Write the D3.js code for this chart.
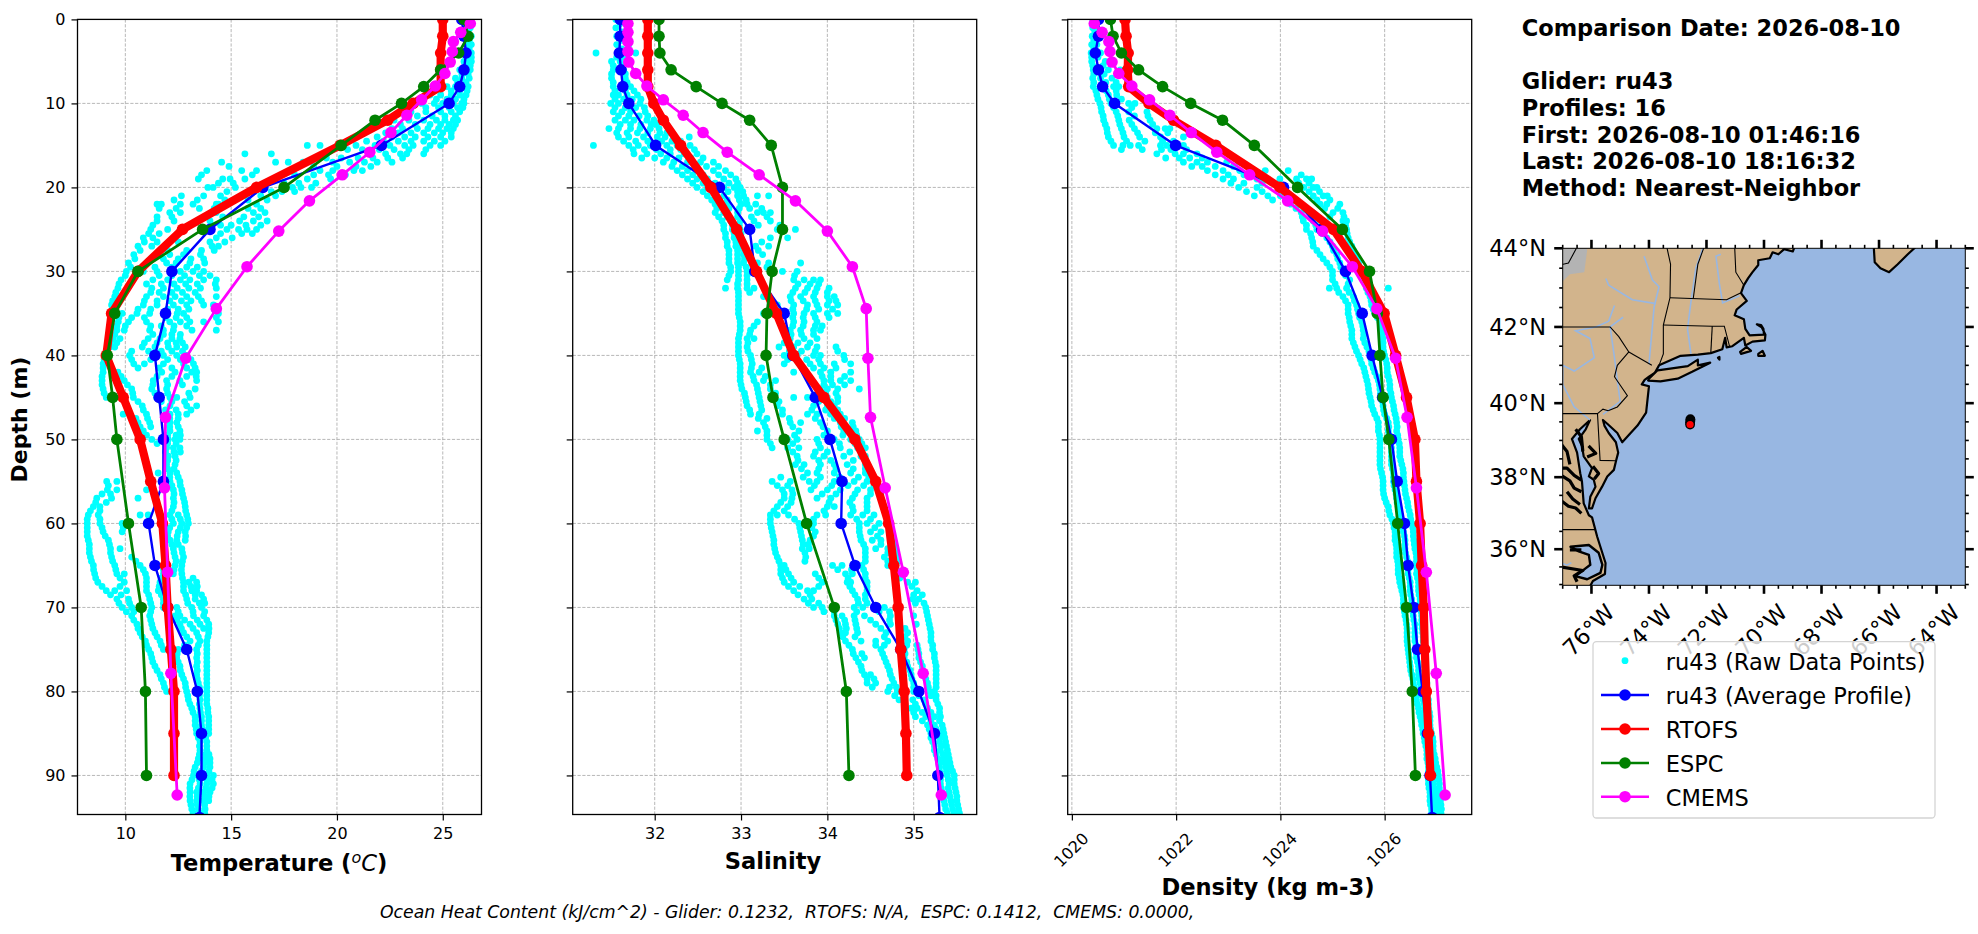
<!DOCTYPE html>
<html>
<head>
<meta charset="utf-8">
<script src="https://cdn.jsdelivr.net/npm/d3@7"></script>
<style>
  html, body { margin: 0; padding: 0; background: #fff; }
  svg { display: block; }
  text { font-family: "DejaVu Sans", sans-serif; fill: #000; }
</style>
</head>
<body>
<div id="chart"></div>
<script>
// profile depths (m)
const gliderDepth = [0, 2, 4, 6, 8, 10, 15, 20, 25, 30, 35, 40, 45, 50, 55, 60, 65, 70, 75, 80, 85, 90, 95];
const rtofsDepth = [0, 2, 4, 6, 8, 10, 12, 15, 20, 25, 30, 35, 40, 45, 50, 55, 60, 65, 70, 75, 80, 85, 90];
const espcDepth = [0, 2, 4, 6, 8, 10, 12, 15, 20, 25, 30, 35, 40, 45, 50, 60, 70, 80, 90];
const cmemsDepth = [0.49, 1.54, 2.65, 3.82, 5.08, 6.44, 7.93, 9.57, 11.41, 13.47, 15.81, 18.5, 21.6, 25.2, 29.44, 34.43, 40.34, 47.37, 55.76, 65.81, 77.85, 92.33];

// temperature
const gliderTemp = [25.9, 26.0, 26.1, 26.0, 25.8, 25.3, 22.1, 16.5, 14.0, 12.2, 11.9, 11.4, 11.6, 11.8, 11.8, 11.1, 11.4, 12.0, 12.9, 13.4, 13.6, 13.6, 13.5];
const rtofsTemp = [25.0, 25.0, 24.9, 24.9, 24.9, 23.6, 22.4, 20.15, 16.2, 12.7, 10.6, 9.35, 9.1, 9.9, 10.7, 11.2, 11.75, 11.9, 12.0, 12.15, 12.3, 12.3, 12.3];
const espcTemp = [26.0, 26.2, 25.75, 24.9, 24.1, 23.05, 21.8, 20.2, 17.5, 13.65, 10.6, 9.5, 9.15, 9.4, 9.6, 10.15, 10.75, 10.95, 11.0];
const cmemsTemp = [26.3, 25.85, 25.5, 25.45, 25.35, 25.1, 24.65, 24.0, 23.3, 22.55, 21.55, 20.25, 18.7, 17.25, 15.75, 14.3, 12.85, 11.9, 11.85, 12.0, 12.15, 12.45];

// salinity
const gliderSal = [31.6, 31.6, 31.59, 31.61, 31.63, 31.7, 32.01, 32.75, 33.1, 33.16, 33.5, 33.6, 33.86, 34.03, 34.17, 34.16, 34.32, 34.56, 34.85, 35.06, 35.24, 35.28, 35.3];
const rtofsSal = [31.92, 31.92, 31.92, 31.92, 31.92, 31.99, 32.1, 32.3, 32.65, 32.95, 33.18, 33.41, 33.61, 33.96, 34.32, 34.56, 34.71, 34.77, 34.82, 34.85, 34.89, 34.91, 34.92];
const espcSal = [32.05, 32.05, 32.06, 32.19, 32.48, 32.78, 33.1, 33.35, 33.48, 33.48, 33.36, 33.3, 33.29, 33.37, 33.5, 33.76, 34.08, 34.22, 34.25];
const cmemsSal = [31.69, 31.69, 31.69, 31.69, 31.7, 31.78, 31.91, 32.1, 32.33, 32.56, 32.84, 33.21, 33.63, 34.0, 34.29, 34.45, 34.47, 34.5, 34.67, 34.88, 35.11, 35.32];

// density
const gliderDens = [1020.51, 1020.51, 1020.45, 1020.51, 1020.59, 1020.82, 1021.99, 1024.06, 1024.79, 1025.25, 1025.57, 1025.76, 1025.96, 1026.13, 1026.24, 1026.38, 1026.45, 1026.56, 1026.63, 1026.73, 1026.82, 1026.87, 1026.91];
const rtofsDens = [1021.02, 1021.04, 1021.08, 1021.07, 1021.09, 1021.48, 1021.95, 1022.76, 1023.99, 1025.02, 1025.56, 1025.99, 1026.21, 1026.42, 1026.58, 1026.61, 1026.68, 1026.71, 1026.75, 1026.77, 1026.8, 1026.84, 1026.88];
const espcDens = [1020.74, 1020.79, 1020.95, 1021.28, 1021.74, 1022.28, 1022.89, 1023.5, 1024.33, 1025.19, 1025.71, 1025.86, 1025.91, 1025.97, 1026.08, 1026.25, 1026.42, 1026.53, 1026.59];
const cmemsDens = [1020.43, 1020.58, 1020.71, 1020.73, 1020.77, 1020.9, 1021.15, 1021.49, 1021.88, 1022.29, 1022.78, 1023.41, 1024.14, 1024.81, 1025.38, 1025.85, 1026.21, 1026.43, 1026.61, 1026.8, 1026.99, 1027.16];

// raw glider samples, one row per metre of depth (row index = depth)
const rawTemp = [
  [26.1,26.3],[26.1,26.3],[26.15,26.35],[26.2,26.35],[26.1,26.35],[26.0,26.2,26.35],[25.8,26.05,26.3],[25.6,25.9,26.25],
  [25.2,25.6,26.0,26.2],[24.4,24.9,25.4,25.8,26.1],[24.0,24.6,25.0,25.5,25.9,26.0],[23.5,24.2,24.9,25.4,25.8],
  [22.7,23.4,24.1,24.7,25.1,25.5,25.7],[22.6,23.1,23.8,24.3,24.8,25.2,25.5],[21.9,22.6,23.2,23.7,24.3,24.9,25.4],
  [18.6,19.2,20.9,21.8,22.5,23.2,23.6,24.4,24.9],[15.65,16.9,21.5,22.3,23.0,23.3,24.1],[14.55,17.1,17.7,18.4,19.8,20.6,21.3,21.9,22.6],
  [13.85,15.5,16.2,19.2,19.8,20.8,21.2],[13.45,14.6,14.95,15.65,18.6,19.7],[13.9,14.15,15.2,16.4,17.9,18.3,18.8],
  [12.65,13.7,14.5,16.4,17.1],[11.7,11.5,12.6,13.2,14.4,14.3,16.2],[12.1,12.6,14.3,16.05,16.6],[11.5,12.3,14.0,15.4,16.05,16.7],
  [11.2,12.0,14.8,15.35,15.75,16.2],[10.85,11.3,14.3,15.05],[10.6,11.25,14.1,14.4],[10.4,12.1,12.75,13.55],[10.15,11.95,12.4,13.05,13.75],
  [10.05,10.85,11.5,12.6,13.2,13.7],[9.8,11.3,12.0,12.6,13.05,13.7,14.3],[9.65,11.25,11.8,12.45,13.0,13.55,14.3],[9.5,11.0,11.8,12.35,12.9,13.45,14.3],
  [9.35,10.85,11.5,12.27,12.9,13.7,14.16],[9.43,9.85,10.55,11.15,12.45,12.75,14.4],[9.67,10.15,11.0,12.1,12.6,13.05,13.7,14.4],[9.6,9.95,11.15,11.8,12.27,13.15,14.3],
  [9.43,9.75,11.08,11.64,12.2,12.58],[9.27,9.5,10.8,11.4,12.03,12.43,12.83],[9.05,10.2,11.32,11.8,12.43,12.9],[8.95,10.4,10.9,11.8,12.75,13.22],
  [8.95,9.65,11.72,12.35,13.14,13.37],[8.9,9.95,11.32,11.95,12.58,13.37],[8.95,10.3,11.25,11.95,13.3],[9.1,10.38,11.48,12.11,12.43,13.06],
  [10.8,12.11,12.9,13.37],[9.9,11.0,12.11,12.5,12.9],[10.6,11.15,12.11,12.43],[10.85,12.11,12.58],[11.25,12.03,12.35,12.58],
  [11.95,12.27,12.58],[12.03,12.35],[11.95,12.35],[11.55,12.11,12.43],[9.6,9.12,11.8,12.11,12.58],[9.15,9.6,11.0,12.27,12.67],
  [8.65,9.35,10.6,12.27,12.75],[8.49,8.8,12.27,12.83],[8.25,8.72,10.7,11.08,12.11,12.5,12.9],[8.2,8.8,9.85,10.06,12.27,12.67,12.98],
  [8.2,8.95,9.85,12.03,12.5,12.83],[8.25,9.2,12.11,12.43,12.83],[8.3,9.3,9.75,12.27,12.67],[8.35,9.35,10.3,12.35,12.75],
  [8.49,9.5,10.7,11.8,12.35,12.67],[8.55,9.6,9.95,10.95,11.8,12.27,12.67],[8.7,9.95,11.0,11.64,12.75,13.0,13.37],[9.1,9.5,10.06,11.0,11.56,12.75,13.14,13.37],
  [9.6,10.15,11.15,11.8,12.9,13.3,13.7],[9.85,10.3,11.25,11.8,12.43,13.14,13.6],[10.3,11.15,12.35,12.58,13.22,13.7],[10.55,11.25,12.58,13.06,13.53,13.94],
  [10.7,11.4,12.75,13.37,13.94],[10.95,11.64,13.06,13.53,13.85],[11.1,11.8,12.5,13.37,13.85],[11.25,12.43,13.37,13.85],[11.4,12.58,13.37,13.85],
  [11.64,12.67,13.37,13.85],[11.8,12.83,13.45,13.85],[11.95,12.9,13.53,13.85],[12.98,13.53,13.85],[13.14,13.53,13.9],[13.3,13.6,13.94],
  [13.3,13.6,13.94],[13.37,13.7,13.94],[13.53,13.85],[13.53,13.85],[13.45,13.77,14.0],[13.3,13.7,14.0],[13.22,13.53,13.85,14.16],
  [13.06,13.53,13.85,14.16],[13.06,13.37,13.7,14.0],[13.06,13.37,13.7,13.94],[13.14,13.45,13.77],[13.3,13.7]
];
// samples between those rows (row index + 0.5 m)
const rawTempMid = [
  [26.2],[26.2],[26.25],[26.25],[26.2,26.35],[26.1,26.3],[25.9,26.2],[25.7,26.1],[25.4,25.8,26.15],
  [24.7,25.2,25.6,26.0],[24.2,24.8,25.3,25.7,25.95],[23.8,24.5,25.1,25.6],[23.0,23.7,24.4,24.9,25.3,25.6],[22.3,22.9,23.5,24.1,24.6,25.0,25.4],[21.4,22.2,22.9,23.5,24.1,24.6,25.1],
  [20.5,21.2,22.0,22.7,23.4,24.2],[19.5,20.2,21.0,21.7,22.4,23.1],[14.9,18.9,20.0,20.9,21.6],[13.6,16.0,18.0,18.9,19.6,20.4],[14.4,15.1,17.5,18.2,19.0],[14.8,16.1,16.9,17.4,18.0],
  [12.3,13.4,14.7,15.8,16.7],[11.6,12.4,13.5,14.2,15.8,16.4],[11.5,12.2,14.6,15.6,16.3],[11.3,14.5,15.0,15.7,16.4],[11.1,11.6,14.5,15.5,16.0],[10.9,11.5,12.5,14.0,14.7],
  [10.7,12.0,12.9,13.6,14.2],[10.45,11.8,12.5,13.1,13.7],[10.25,11.4,12.2,12.9,13.4],[10.0,11.6,12.2,12.8,13.5,14.0],[9.7,11.0,11.7,12.3,12.85,13.4,14.25],[9.55,11.2,11.6,12.2,12.7,13.3],
  [9.4,10.9,11.5,12.1,12.65,13.1,13.6],[9.4,10.6,11.2,12.0,12.5,13.0,14.2],[9.7,10.3,10.9,11.9,12.4,12.9,14.3],[9.6,10.0,11.2,11.7,12.3,12.9],[9.5,11.3,11.8,12.2,12.6],[9.3,9.6,10.9,11.5,12.0,12.4,12.7],
  [9.1,10.3,11.1,11.7,12.2,12.7],[9.0,10.3,11.2,12.0,12.6,13.1],[8.95,10.6,11.6,12.2,12.9,13.3],[8.9,9.8,11.5,12.2,12.9,13.35],[8.9,10.1,11.3,12.0,12.7],[9.0,10.35,11.4,12.0,13.0],
  [10.6,11.7,12.2,12.8],[10.85,11.9,12.4,13.1],[10.5,11.05,12.1,12.5],[10.7,11.2,12.1,12.5],[11.0,12.0,12.4,12.6],[11.5,12.0,12.4],[11.9,12.3,12.6],[12.0,12.4],[12.0,12.3],[12.1,12.5],
  [9.2,12.2,12.6],[8.9,9.3,12.3,12.7],[8.6,9.1,12.3,12.8],[8.35,8.8,12.2,12.85],[8.2,8.8,12.2,12.6,12.95],[8.2,8.9,9.9,12.1,12.6,12.9],[8.2,9.05,12.0,12.45,12.85],[8.3,9.25,12.2,12.5],[8.3,9.3,12.3,12.7],
  [8.4,9.4,10.5,12.4,12.7],[8.5,9.55,10.85,11.8,12.3,12.65],[8.6,9.75,11.0,11.7,12.7,13.2],[8.9,9.75,11.0,11.6,12.75,13.1,13.4],[9.3,9.8,11.1,11.7,12.85,13.3,13.6],[9.7,10.2,11.2,11.8,12.95,13.5,13.75],
  [10.05,10.4,11.2,12.0,12.5,13.2,13.75],[10.4,11.2,12.45,12.8,13.4,13.85],[10.6,11.3,12.65,13.2,13.7,13.95],[10.8,11.5,12.9,13.45,13.9],[11.0,11.7,12.8,13.45,13.85],[11.2,12.45,13.4,13.85],[11.3,12.5,13.4,13.85],
  [11.5,12.6,13.4,13.85],[11.7,12.75,13.4,13.85],[11.85,12.85,13.5,13.85],[12.95,13.5,13.85],[13.05,13.5,13.85],[13.2,13.55,13.9],[13.3,13.6,13.94],[13.35,13.65,13.94],[13.45,13.8],[13.5,13.85],
  [13.5,13.8,13.95],[13.4,13.75,14.0],[13.25,13.6,13.95],[13.15,13.5,13.85,14.1],[13.05,13.45,13.8,14.1],[13.05,13.4,13.75,13.95],[13.1,13.4,13.75],[13.2,13.55,13.75]
];
const rawSal = [
  [31.55,31.68],[31.55,31.68],[31.56,31.68],[31.56,31.7],[31.32,31.6,31.78],[31.5,31.6],[31.52,31.64],[31.5,31.66],[31.52,31.62,31.72],
  [31.52,31.58,31.68,31.8],[31.49,31.58,31.72,31.83],[31.52,31.62,31.72,31.89],[31.54,31.66,31.76,31.91,31.99],[31.47,31.58,31.72,31.83,31.95,32.05],
  [31.58,31.7,31.87,32.03,32.12,32.22,32.4],[31.29,31.7,31.81,31.95,32.14,32.26,32.41],[31.76,31.91,32.07,32.18,32.34,32.49],[32.1,32.22,32.38,32.53,32.68],
  [32.26,32.38,32.49,32.68,32.82],[32.38,32.49,32.61,32.8,32.94],[32.49,32.61,32.8,32.92,32.99],[32.61,32.8,32.96,33.03,33.19,33.32],[32.7,32.84,33.0,33.07,33.17],
  [32.7,32.8,32.96,33.19,33.26,33.34],[32.78,32.88,32.99,33.15,33.34],[32.8,32.9,32.99,33.42,33.63],[32.82,32.92,32.99,33.34,33.54],[32.84,32.94,33.01,33.17,33.32],
  [32.86,32.96,33.03,33.25],[32.86,32.96,33.03,33.19,33.32,33.69],[32.88,32.97,33.07,33.48,33.65],[32.84,32.97,33.07,33.61,33.73,33.84,33.92],
  [32.82,32.96,33.07,33.15,33.63,33.77,33.88,34.02],[32.97,33.26,33.57,33.69,33.84,34.0,34.08],[32.97,33.42,33.61,33.77,33.88,34.0,34.12],[32.97,33.26,33.61,33.73,33.84,34.0,34.12],
  [32.99,33.19,33.61,33.73,33.88],[32.99,33.11,33.57,33.69,33.84,33.92],[32.97,33.07,33.15,33.57,33.73,33.88],[32.97,33.07,33.44,33.61,33.77,33.88,34.1],
  [32.97,33.11,33.5,33.65,33.84,33.92,34.19],[32.99,33.13,33.5,33.8,33.92,34.08,34.27],[32.99,33.11,33.21,33.61,33.92,34.04,34.27],[32.99,33.15,33.26,33.4,33.96,34.04,34.15,34.27],
  [33.01,33.19,33.34,33.92,34.0,34.12,34.37],[33.05,33.21,33.36,33.61,33.77,34.0,34.12],[33.07,33.23,33.42,33.84,34.0,34.08],[33.11,33.21,33.48,33.77,33.88,34.04,34.15],
  [33.26,33.57,33.69,33.92,34.15,34.29],[33.19,33.3,33.67,34.0,34.19,34.33],[33.3,33.54,33.65,33.88,34.08,34.27,34.37],[33.36,33.54,33.67,33.92,34.15,34.35,34.44],
  [33.65,33.84,33.96,34.19,34.39,34.44],[33.63,33.73,33.92,34.08,34.23,34.44],[33.77,33.88,34.08,34.27,34.44],[33.36,33.57,33.79,33.88,34.08,34.31,34.46,34.56],
  [33.48,33.59,33.81,34.0,34.15,34.35,34.5,34.62],[33.5,33.59,33.88,34.04,34.29,34.46,34.62],[33.42,33.54,34.0,34.08,34.29,34.46,34.66],[33.34,33.42,33.55,33.88,33.98,34.27,34.41,34.54,34.68],
  [33.34,33.67,33.77,33.84,34.37,34.46,34.6,34.72],[33.36,33.69,33.86,34.37,34.5,34.62,34.74],[33.38,33.71,33.8,34.39,34.52,34.62,34.76],[33.39,33.71,33.79,34.44,34.56,34.7,34.79],
  [33.42,33.75,34.44,34.66,34.81],[33.46,33.5,34.06,34.17,34.4,34.7],[33.46,33.55,33.86,34.21,34.29,34.44,34.81],[33.5,33.61,33.94,34.23,34.27,34.46,34.93,35.02],
  [33.61,33.77,33.84,34.29,34.46,35.04],[33.73,33.82,34.35,34.44,34.99,35.06],[33.84,33.94,34.31,34.41,34.58,34.66,34.81,35.14],[34.08,34.17,34.31,34.43,34.73,35.0,35.16],
  [34.12,34.21,34.33,34.56,34.73,35.03,35.18],[34.15,34.21,34.35,34.68,34.93,35.2],[34.21,34.39,34.56,34.7,34.93,35.2],[34.29,34.62,34.89,35.05,35.22],
  [34.33,34.43,34.66,34.89,35.06,35.24],[34.39,34.7,34.93,35.1,35.26],[34.43,34.5,34.73,34.97,35.12,35.26],[34.46,34.56,34.77,35.0,35.16,35.26],
  [34.7,34.81,35.0,35.18,35.24],[34.83,34.99,35.12,35.26],[34.97,35.04,35.16,35.3],[35.02,35.14,35.24,35.31],[35.16,35.24,35.33],[35.2,35.28,35.35],
  [35.22,35.3,35.37],[35.24,35.31,35.39],[35.28,35.35,35.41],[35.3,35.37,35.43],[35.31,35.39,35.47],[35.31,35.41,35.47],[35.33,35.41,35.49],[35.35,35.43,35.5],[35.37,35.45,35.52],[35.41,35.49,35.53]
];
const rawSalMid = [
  [31.6],[31.62],[31.62],[31.62],[31.56,31.65],[31.52,31.62],[31.5,31.66],[31.52,31.68],[31.54,31.66,31.76],[31.54,31.64,31.74,31.84],[31.54,31.66,31.78,31.88],[31.58,31.7,31.82,31.92],[31.6,31.72,31.84,31.96,32.02],
  [31.56,31.68,31.8,31.92,32.06,32.14],[31.64,31.78,31.92,32.08,32.2,32.3],[31.75,31.88,32.02,32.18,32.3,32.46],[31.85,32.0,32.14,32.28,32.42,32.56],[32.2,32.32,32.46,32.6,32.74],[32.32,32.44,32.56,32.74,32.88],
  [32.44,32.56,32.7,32.86,32.96],[32.56,32.7,32.85,32.96,33.02],[32.66,32.84,32.98,33.06],[32.72,32.86,32.98,33.1,33.24],[32.74,32.84,32.96,33.12,33.3],[32.8,32.9,32.98,33.2,33.45],[32.82,32.92,33.0],[32.84,32.94,33.02,33.24],
  [32.86,32.96,33.04,33.2],[32.86,32.96,33.04],[32.88,32.97,33.06,33.3],[32.86,32.97,33.07,33.62],[32.96,33.07,33.66,33.8,33.9],[32.97,33.1,33.6,33.74,33.86,34.0],[32.97,33.58,33.72,33.86,34.02,34.1],[32.97,33.6,33.76,33.9,34.06],
  [32.98,33.6,33.72,33.86,34.02],[32.99,33.15,33.6,33.72,33.86,33.94],[32.98,33.1,33.58,33.7,33.84],[32.97,33.08,33.5,33.66,33.8],[32.97,33.08,33.56,33.7,33.86,34.12],[32.98,33.12,33.54,33.76,33.9,34.2],[32.99,33.12,33.24,33.84,33.96,34.1],
  [32.99,33.14,33.28,33.94,34.04,34.2],[33.0,33.18,33.34,33.96,34.06,34.2],[33.04,33.2,33.4,33.98,34.1],[33.06,33.22,33.44,33.9,34.04,34.12],[33.1,33.24,33.48,33.82,33.98,34.12],[33.2,33.3,33.56,33.86,34.08,34.2],[33.28,33.6,33.95,34.16,34.3],
  [33.3,33.62,33.96,34.18,34.34],[33.34,33.6,33.9,34.14,34.32,34.4],[33.6,33.86,34.0,34.26,34.4],[33.66,33.9,34.04,34.3,34.44],[33.7,33.9,34.1,34.3,34.44],[33.46,33.72,33.92,34.14,34.36,34.48],[33.42,33.54,33.85,34.05,34.24,34.42,34.54],
  [33.5,33.6,33.94,34.1,34.32,34.5,34.62],[33.46,33.58,34.02,34.26,34.46,34.64],[33.38,33.5,33.96,34.3,34.46,34.66],[33.34,33.62,33.84,34.34,34.5,34.7],[33.35,33.68,33.82,34.37,34.55,34.73],[33.37,33.7,33.84,34.38,34.58,34.75],[33.38,33.72,33.78,34.42,34.62,34.78],
  [33.4,33.74,34.44,34.7,34.8],[33.44,33.74,34.44,34.7,34.82],[33.46,33.52,34.12,34.28,34.42,34.8],[33.48,33.58,33.9,34.24,34.44,34.84],[33.55,33.68,33.9,34.26,34.46,34.98],[33.66,33.8,34.32,34.44,35.0,35.1],[33.78,33.9,34.36,34.46,35.02,35.12],
  [33.96,34.08,34.34,34.6,34.72,35.15],[34.1,34.2,34.32,34.5,34.72,35.17],[34.14,34.22,34.34,34.62,34.9,35.19],[34.18,34.32,34.66,34.9,35.2],[34.25,34.56,34.66,34.92,35.04,35.22],[34.3,34.4,34.64,34.9,35.06,35.24],[34.36,34.68,34.92,35.08,35.25],
  [34.4,34.72,34.96,35.1,35.26],[34.46,34.54,34.75,34.98,35.14,35.26],[34.52,34.72,34.8,35.0,35.17,35.26],[34.78,34.9,35.06,35.2,35.26],[34.9,35.02,35.14,35.28],[35.0,35.1,35.2,35.3],[35.1,35.2,35.3],[35.18,35.26,35.34],[35.2,35.3,35.36],
  [35.24,35.32,35.38],[35.26,35.34,35.4],[35.3,35.36,35.42],[35.3,35.38,35.45],[35.31,35.4,35.47],[35.32,35.4,35.48],[35.34,35.42,35.5],[35.36,35.44,35.51],[35.39,35.47,35.53]
];
const rawDens = [
  [1020.4,1020.47],[1020.4,1020.47],[1020.39,1020.48],[1020.38,1020.48],[1020.37,1020.55],[1020.38,1020.64],[1020.41,1020.7,1020.93],[1020.4,1020.55,1020.77],
  [1020.41,1020.6,1020.8,1020.9],[1020.48,1020.7,1020.86],[1020.54,1020.75,1021.09,1021.21],[1020.57,1020.85,1021.09,1021.44],[1020.61,1020.9,1021.1,1021.5],
  [1020.67,1020.95,1021.2,1021.63,1021.79,1021.88],[1020.7,1021.0,1021.3,1021.7,1022.14],[1020.8,1020.98,1021.12,1021.28,1021.7,1021.82,1022.14],[1021.63,1021.98,1022.14,1022.4],
  [1022.14,1022.4,1022.6,1022.97,1023.2],[1022.6,1022.9,1023.22,1023.42,1023.71,1024.15],[1022.9,1023.1,1023.55,1023.99,1024.31,1024.5,1024.6],[1023.2,1023.55,1024.05,1024.45,1024.63,1024.7],
  [1023.5,1023.76,1024.0,1024.63,1024.82,1024.9],[1024.2,1024.4,1024.76,1024.89,1025.14],[1024.4,1024.62,1025.01,1025.2],[1024.44,1024.63,1025.2,1025.27],[1024.5,1024.7,1025.27],
  [1024.6,1024.89,1025.3],[1024.63,1025.0,1025.37],[1024.76,1025.08,1025.43],[1024.89,1025.14,1025.5],[1025.0,1025.2,1025.53],[1025.0,1025.33,1025.62],[1024.94,1025.08,1025.27,1025.65,1026.07],
  [1025.2,1025.4,1025.72],[1025.3,1025.46,1025.75],[1025.3,1025.5,1025.81],[1025.33,1025.56,1025.91],[1025.37,1025.59,1025.94],[1025.37,1025.59,1025.97],[1025.43,1025.66,1025.97],
  [1025.5,1025.72,1026.0],[1025.56,1025.75,1026.04],[1025.62,1025.81,1026.05],[1025.66,1025.88,1026.09],[1025.69,1025.91,1026.1],[1025.72,1025.94,1026.13],[1025.75,1025.97,1026.17],
  [1025.81,1026.0,1026.2],[1025.88,1026.07,1026.23],[1025.88,1026.07,1026.23],[1025.91,1026.1,1026.26],[1025.91,1026.13,1026.29],[1025.91,1026.13,1026.29],[1025.91,1026.13,1026.33],
  [1025.94,1026.17,1026.36],[1025.97,1026.17,1026.37],[1025.97,1026.2,1026.39],[1026.0,1026.23,1026.42],[1026.07,1026.26,1026.45],[1026.1,1026.29,1026.49],[1026.17,1026.33,1026.52],
  [1026.2,1026.36,1026.55],[1026.2,1026.39,1026.56],[1026.23,1026.39,1026.58],[1026.23,1026.42,1026.61],[1026.26,1026.45,1026.61],[1026.26,1026.45,1026.61],[1026.29,1026.49,1026.65],
  [1026.33,1026.49,1026.65],[1026.36,1026.52,1026.68],[1026.36,1026.52,1026.68],[1026.39,1026.55,1026.71],[1026.42,1026.58,1026.71],[1026.43,1026.58,1026.73],[1026.43,1026.58,1026.74],
  [1026.45,1026.61,1026.74],[1026.47,1026.61,1026.77],[1026.49,1026.65,1026.77],[1026.52,1026.65,1026.79],[1026.55,1026.68,1026.81],[1026.58,1026.71,1026.81],[1026.61,1026.74,1026.84],
  [1026.65,1026.77,1026.84],[1026.68,1026.77,1026.87],[1026.71,1026.81,1026.87],[1026.74,1026.84,1026.9],[1026.77,1026.84,1026.93],[1026.81,1026.87,1026.93],[1026.81,1026.9,1026.97],
  [1026.84,1026.93,1027.0],[1026.84,1026.93,1027.03],[1026.84,1026.93,1027.05],[1026.87,1026.97,1027.06],[1026.87,1026.97,1027.07],[1026.9,1027.0,1027.09],[1026.9,1027.0,1027.07]
];
const rawDensMid = [
  [1020.44],[1020.44],[1020.42],[1020.42],[1020.38,1020.5],[1020.4,1020.6],[1020.42,1020.62],[1020.42,1020.65,1020.85],[1020.46,1020.66,1020.85],[1020.5,1020.72,1020.95],[1020.56,1020.8,1021.15],[1020.6,1020.88,1021.2,1021.46],
  [1020.64,1020.92,1021.15,1021.55],[1020.68,1020.98,1021.26,1021.6,1021.84],[1020.75,1021.05,1021.4,1021.74,1021.95],[1020.95,1021.35,1021.72,1021.9,1022.2],[1021.8,1022.06,1022.26,1022.5],[1022.3,1022.5,1022.75,1023.1],
  [1022.75,1023.0,1023.3,1023.6,1024.4],[1023.05,1023.3,1023.65,1024.35,1024.55],[1023.35,1023.65,1024.1,1024.55,1024.75],[1023.85,1024.1,1024.7,1024.95],[1024.3,1024.5,1024.85,1025.1],[1024.42,1024.6,1024.95,1025.22],
  [1024.5,1024.68,1025.25],[1024.58,1024.8,1025.28],[1024.62,1024.95,1025.33],[1024.7,1025.02,1025.4],[1024.82,1025.1,1025.46],[1024.95,1025.16,1025.52],[1025.0,1025.25,1025.58],[1025.05,1025.3,1025.64],[1025.12,1025.32,1025.68],
  [1025.25,1025.42,1025.74],[1025.3,1025.48,1025.78],[1025.32,1025.52,1025.86],[1025.35,1025.58,1025.92],[1025.37,1025.6,1025.95],[1025.4,1025.62,1025.97],[1025.46,1025.7,1025.98],[1025.53,1025.74,1026.02],[1025.6,1025.78,1026.05],
  [1025.64,1025.85,1026.07],[1025.68,1025.9,1026.1],[1025.7,1025.92,1026.12],[1025.74,1025.96,1026.15],[1025.78,1025.98,1026.18],[1025.85,1026.04,1026.22],[1025.88,1026.08,1026.24],[1025.9,1026.08,1026.25],[1025.91,1026.12,1026.28],
  [1025.91,1026.13,1026.29],[1025.91,1026.13,1026.31],[1025.92,1026.15,1026.35],[1025.96,1026.17,1026.36],[1025.97,1026.18,1026.38],[1025.98,1026.22,1026.4],[1026.03,1026.24,1026.44],[1026.08,1026.28,1026.47],[1026.14,1026.31,1026.5],
  [1026.18,1026.35,1026.54],[1026.2,1026.38,1026.55],[1026.22,1026.39,1026.57],[1026.23,1026.4,1026.6],[1026.25,1026.44,1026.61],[1026.26,1026.45,1026.62],[1026.28,1026.47,1026.63],[1026.31,1026.49,1026.65],[1026.35,1026.5,1026.66],
  [1026.36,1026.52,1026.68],[1026.38,1026.54,1026.7],[1026.41,1026.56,1026.71],[1026.43,1026.58,1026.72],[1026.43,1026.58,1026.74],[1026.44,1026.6,1026.75],[1026.46,1026.61,1026.76],[1026.48,1026.63,1026.77],[1026.5,1026.65,1026.78],
  [1026.54,1026.66,1026.8],[1026.57,1026.7,1026.81],[1026.6,1026.72,1026.82],[1026.63,1026.76,1026.84],[1026.66,1026.77,1026.86],[1026.7,1026.79,1026.87],[1026.73,1026.82,1026.88],[1026.76,1026.84,1026.92],[1026.79,1026.86,1026.93],
  [1026.81,1026.88,1026.95],[1026.83,1026.92,1026.98],[1026.84,1026.93,1027.02],[1026.84,1026.93,1027.04],[1026.85,1026.95,1027.05],[1026.87,1026.97,1027.06],[1026.88,1026.98,1027.08],[1026.9,1027.0,1027.08]
];

const depthTicks = [0, 10, 20, 30, 40, 50, 60, 70, 80, 90];
const tempTicks = [10, 15, 20, 25];
const salTicks = [32, 33, 34, 35];
const densTicks = [1020, 1022, 1024, 1026];

// map data, lon/lat
const landOutline = [[-78,45],[-68.8,45],[-68.9,44.1],[-69.0,43.92],[-69.3,43.98],[-69.5,43.85],[-69.7,43.9],[-69.8,43.75],[-70.2,43.7],[-70.2,43.58],[-70.4,43.4],[-70.55,43.25],[-70.7,43.07],[-70.8,42.87],[-70.6,42.67],[-70.95,42.45],[-71.02,42.3],[-70.7,42.2],[-70.65,41.95],[-70.5,41.78],[-70.0,41.8],[-70.02,41.95],[-70.1,42.05],[-70.25,42.07],[-70.08,41.99],[-69.95,41.8],[-69.97,41.65],[-70.4,41.62],[-70.65,41.52],[-70.7,41.72],[-71.1,41.5],[-71.3,41.47],[-71.35,41.72],[-71.45,41.42],[-71.85,41.32],[-72.3,41.28],[-72.9,41.25],[-73.65,41.0],[-73.8,40.8],[-74.0,40.7],[-74.15,40.62],[-74.25,40.5],[-74.0,40.45],[-74.05,40.1],[-74.1,39.75],[-74.4,39.4],[-74.93,38.95],[-75.1,39.2],[-75.45,39.45],[-75.6,39.55],[-75.55,39.4],[-75.4,39.2],[-75.15,38.95],[-75.07,38.67],[-75.14,38.46],[-75.22,38.2],[-75.45,38.02],[-75.63,37.74],[-75.86,37.42],[-75.98,37.14],[-76.09,37.14],[-76.04,37.46],[-75.86,37.74],[-75.92,37.93],[-76.09,38.02],[-75.98,38.25],[-76.27,38.57],[-76.33,38.85],[-76.44,39.04],[-76.2,39.3],[-76.05,39.55],[-76.4,39.3],[-76.68,39.04],[-76.5,38.67],[-76.39,38.11],[-76.33,37.88],[-76.27,37.28],[-76.09,36.95],[-75.98,36.89],[-75.8,36.35],[-75.51,35.61],[-75.53,35.3],[-75.95,35.1],[-76.05,34.95],[-78,34.9]];
const longIsland = [[-74.03,40.6],[-73.6,40.58],[-73.0,40.65],[-72.5,40.83],[-71.87,41.07],[-72.3,41.0],[-72.3,41.15],[-72.65,40.98],[-73.2,40.92],[-73.7,40.87],[-74.0,40.65]];
const marthasVineyard = [[-70.83,41.35],[-70.6,41.48],[-70.45,41.38],[-70.8,41.3]];
const nantucket = [[-70.2,41.3],[-70.05,41.38],[-69.97,41.25],[-70.2,41.25]];
const blockIsland = [[-71.6,41.2],[-71.55,41.22],[-71.55,41.15]];
const novaScotia = [[-66.18,44.3],[-66.18,44.0],[-66.15,43.65],[-65.95,43.5],[-65.65,43.4],[-65.35,43.6],[-65.0,43.85],[-64.7,44.05],[-64.7,44.3]];
const pamlicoSound = [[-76.73,36.07],[-76.09,36.12],[-75.75,35.9],[-75.62,35.56],[-75.69,35.33],[-76.15,35.15],[-76.56,35.24],[-76.33,35.38],[-76.04,35.56],[-76.09,35.84],[-76.44,35.94]];
const lakeOntario = [[-77.1,44.2],[-76.2,44.2],[-76.15,43.95],[-76.25,43.4],[-76.75,43.35],[-77.1,43.1]];
const stateBorders = [
  [[-77.1,39.72],[-75.79,39.72],[-75.7,38.46],[-75.14,38.45]],
  [[-75.79,39.72],[-75.6,39.84],[-75.42,39.8]],
  [[-75.42,39.8],[-75.1,39.9],[-74.75,40.2],[-75.2,40.7],[-75.1,41.0],[-74.7,41.35]],
  [[-74.7,41.35],[-73.9,41.0]],
  [[-77.1,42.0],[-75.35,42.0],[-75.05,41.75],[-74.7,41.35]],
  [[-73.5,42.05],[-71.8,42.02],[-71.38,42.02],[-71.2,41.5]],
  [[-73.65,41.0],[-73.5,41.3],[-73.5,42.05],[-73.27,42.75],[-73.25,43.6],[-73.4,44.1]],
  [[-71.8,42.02],[-71.85,41.32]],
  [[-73.27,42.75],[-71.3,42.7],[-70.82,42.87]],
  [[-72.46,42.73],[-72.3,43.6],[-72.05,44.1]],
  [[-70.7,43.07],[-70.98,43.4],[-71.03,44.2]],
  [[-77.1,36.55],[-75.87,36.55]],
  [[-77.1,43.58],[-76.8,43.63],[-76.45,44.1]]
];
const estuaries = [
  [[-77.05,38.25],[-76.85,38.25],[-76.6,38.05],[-76.35,37.92]],
  [[-77.05,38.05],[-76.75,37.9],[-76.6,37.7],[-76.35,37.6]],
  [[-76.85,37.6],[-76.65,37.4],[-76.4,37.25]],
  [[-77.05,37.35],[-76.8,37.2],[-76.55,37.15],[-76.35,37.0]],
  [[-77.05,38.9],[-76.85,38.7],[-76.75,38.35]],
  [[-76.55,39.3],[-76.35,39.1],[-76.3,38.7]],
  [[-75.95,38.3],[-75.75,38.1],[-75.9,37.95]],
  [[-76.1,38.85],[-75.85,38.65],[-76.15,38.55]],
  [[-76.75,35.98],[-76.35,35.98]],
  [[-77.05,35.5],[-76.3,35.4],[-76.6,35.25],[-76.5,35.08]]
];
const rivers = [
  [[-74.0,41.03],[-73.82,42.52],[-73.65,43.03],[-73.88,43.2],[-74.17,43.8]],
  [[-73.76,42.6],[-74.58,42.7],[-75.4,43.07],[-75.5,43.24]],
  [[-72.54,41.3],[-72.66,41.95],[-72.54,42.65],[-72.37,43.5],[-72.08,44.1]],
  [[-70.85,42.8],[-71.44,42.62],[-71.55,43.1],[-71.67,43.8],[-71.5,43.85]],
  [[-76.05,39.55],[-76.6,39.9],[-77.0,40.5],[-77.0,41.0],[-76.6,40.85],[-75.9,41.2],[-76.05,41.7],[-76.55,41.9],[-75.85,42.0],[-75.4,42.15],[-75.2,42.55]],
  [[-75.6,39.7],[-75.0,40.05],[-75.1,40.6],[-75.2,41.2],[-75.35,42.0],[-74.9,42.25]],
  [[-77.0,35.6],[-76.85,35.55],[-76.7,35.62]]
];
const gliderTrack = [[-72.56,39.57],[-72.56,39.53],[-72.57,39.48],[-72.57,39.43]];
const mapLonTicks = [-76, -74, -72, -70, -68, -66, -64];
const mapLatTicks = [44, 42, 40, 38, 36];
const mapLonMinor = [-77, -76.5, -75.5, -75, -74.5, -73.5, -73, -72.5, -71.5, -71, -70.5, -69.5, -69, -68.5, -67.5, -67, -66.5, -65.5, -65, -64.5, -63.5, -63];
const mapLatMinor = [43.5, 43, 42.5, 41.5, 41, 40.5, 39.5, 39, 38.5, 37.5, 37, 36.5, 35.5, 35];

const infoLines = [
  ["Comparison Date: 2026-08-10", 36],
  ["Glider: ru43", 89],
  ["Profiles: 16", 116],
  ["First: 2026-08-10 01:46:16", 143],
  ["Last: 2026-08-10 18:16:32", 169],
  ["Method: Nearest-Neighbor", 196]
];
const legendItems = ["ru43 (Raw Data Points)", "ru43 (Average Profile)", "RTOFS", "ESPC", "CMEMS"];
const heatText = "Ocean Heat Content (kJ/cm^2) - Glider: 0.1232,  RTOFS: N/A,  ESPC: 0.1412,  CMEMS: 0.0000,";

const width = 1978, height = 934;
const plotTop = 19.4, plotBottom = 814.5;
const colors = {raw: "#00ffff", glider: "#0000ff", rtofs: "#ff0000", espc: "#008000", cmems: "#ff00ff"};

const svg = d3.select("#chart").append("svg")
    .attr("width", width)
    .attr("height", height)
    .attr("viewBox", [0, 0, width, height]);

const y = d3.scaleLinear().domain([0, 94.65]).range([plotTop, plotBottom]);

const panels = [
  {left: 77.5, right: 481.5, domain: [7.74, 26.83], ticks: tempTicks, raw: rawTemp, rawMid: rawTempMid, glider: gliderTemp, rtofs: rtofsTemp, espc: espcTemp, cmems: cmemsTemp},
  {left: 572.7, right: 976.7, domain: [31.05, 35.73], ticks: salTicks, raw: rawSal, rawMid: rawSalMid, glider: gliderSal, rtofs: rtofsSal, espc: espcSal, cmems: cmemsSal},
  {left: 1067.7, right: 1471.7, domain: [1019.92, 1027.67], ticks: densTicks, raw: rawDens, rawMid: rawDensMid, glider: gliderDens, rtofs: rtofsDens, espc: espcDens, cmems: cmemsDens, tilt: true}
];

panels.forEach((p, i) => {
    const x = d3.scaleLinear().domain(p.domain).range([p.left, p.right]);
    const g = svg.append("g").attr("class", "panel");

    const clipId = "clip" + i;
    svg.append("clipPath").attr("id", clipId).append("rect")
        .attr("x", p.left).attr("y", plotTop)
        .attr("width", p.right - p.left).attr("height", plotBottom - plotTop);

    // grid
    const grid = g.append("g").attr("stroke", "#b0b0b0").attr("stroke-width", 0.9).attr("stroke-dasharray", "3.2,1.6");
    grid.selectAll(".h").data(depthTicks.slice(1)).enter().append("line")
        .attr("x1", p.left).attr("x2", p.right).attr("y1", d => y(d)).attr("y2", d => y(d));
    grid.selectAll(".v").data(p.ticks).enter().append("line")
        .attr("x1", d => x(d)).attr("x2", d => x(d)).attr("y1", plotTop).attr("y2", plotBottom);

    const plot = g.append("g").attr("clip-path", `url(#${clipId})`);

    // raw points
    const rawPts = [];
    p.raw.forEach((row, depth) => row.forEach(v => rawPts.push({v: v, d: depth})));
    p.rawMid.forEach((row, depth) => row.forEach(v => rawPts.push({v: v, d: depth + 0.5})));
    plot.append("g").selectAll("circle").data(rawPts).enter().append("circle")
        .attr("cx", d => x(d.v)).attr("cy", d => y(d.d)).attr("r", 3.4).attr("fill", colors.raw);

    const series = [
      {vals: p.glider, depth: gliderDepth, color: colors.glider, lw: 2.4},
      {vals: p.rtofs, depth: rtofsDepth, color: colors.rtofs, lw: 8.2},
      {vals: p.espc, depth: espcDepth, color: colors.espc, lw: 2.8},
      {vals: p.cmems, depth: cmemsDepth, color: colors.cmems, lw: 2.8}
    ];
    const line = d3.line().x(d => x(d[0])).y(d => y(d[1]));
    series.forEach(s => {
        const pts = s.vals.map((v, k) => [v, s.depth[k]]);
        plot.append("path").datum(pts)
            .attr("d", line).attr("fill", "none")
            .attr("stroke", s.color).attr("stroke-width", s.lw).attr("stroke-linejoin", "round");
        plot.append("g").selectAll("circle").data(pts).enter().append("circle")
            .attr("cx", d => x(d[0])).attr("cy", d => y(d[1])).attr("r", 5.8).attr("fill", s.color);
    });

    // axes
    const yAxis = d3.axisLeft(y).tickValues(depthTicks).tickSize(6).tickPadding(6);
    if (i > 0) yAxis.tickFormat("");
    const ya = g.append("g").attr("transform", `translate(${p.left},0)`).call(yAxis);
    const xAxis = d3.axisBottom(x).tickValues(p.ticks).tickSize(6).tickPadding(7).tickFormat(d3.format("d"));
    const xa = g.append("g").attr("transform", `translate(0,${plotBottom})`).call(xAxis);
    [ya, xa].forEach(a => {
        a.select(".domain").remove();
        a.selectAll("line").attr("stroke", "#000").attr("stroke-width", 1.2);
        a.selectAll("text").attr("font-size", 16).attr("font-family", "DejaVu Sans");
    });
    if (p.tilt) {
        xa.selectAll("text")
            .attr("text-anchor", "middle").attr("dy", null).attr("y", null)
            .attr("dominant-baseline", "central")
            .attr("transform", d => `translate(-1,${850 - plotBottom}) rotate(-45)`);
    }

    g.append("rect")
        .attr("x", p.left).attr("y", plotTop)
        .attr("width", p.right - p.left).attr("height", plotBottom - plotTop)
        .attr("fill", "none").attr("stroke", "#000").attr("stroke-width", 1.3);
});

// axis titles
svg.append("text").attr("transform", "translate(27,419.5) rotate(-90)")
    .attr("text-anchor", "middle").attr("font-size", 22).attr("font-weight", "bold").text("Depth (m)");
const tempLabel = svg.append("text").attr("x", 279).attr("y", 871).attr("text-anchor", "middle")
    .attr("font-size", 22.6).attr("font-weight", "bold");
tempLabel.append("tspan").text("Temperature (");
tempLabel.append("tspan").attr("font-size", 16).attr("font-style", "italic").attr("font-weight", "normal").attr("dy", -8).text("o");
tempLabel.append("tspan").attr("font-style", "italic").attr("font-weight", "normal").attr("dy", 8).text("C");
tempLabel.append("tspan").text(")");
svg.append("text").attr("x", 773).attr("y", 869).attr("text-anchor", "middle")
    .attr("font-size", 22.6).attr("font-weight", "bold").text("Salinity");
svg.append("text").attr("x", 1268).attr("y", 895).attr("text-anchor", "middle")
    .attr("font-size", 22.6).attr("font-weight", "bold").text("Density (kg m-3)");

svg.append("text").attr("x", 380).attr("y", 917.5)
    .attr("font-size", 17.3).attr("font-style", "italic")
    .style("white-space", "pre").text(heatText);

// info block
svg.append("g").selectAll("text").data(infoLines).enter().append("text")
    .attr("x", 1521.7).attr("y", d => d[1])
    .attr("font-size", 22.5).attr("font-weight", "bold").text(d => d[0]);

// map
const mapLeft = 1562.7, mapRight = 1965.3, mapTop = 248.3, mapBottom = 585.3;
const projection = d3.geoMercator()
    .scale((mapRight - mapLeft) / (14 * Math.PI / 180))
    .translate([0, 0]);
const t0 = projection([-77, 44]);
projection.translate([mapLeft - t0[0], mapTop - t0[1]]);

const shape = d3.line().x(d => projection(d)[0]).y(d => projection(d)[1]);
const map = svg.append("g");
map.append("clipPath").attr("id", "mapClip").append("rect")
    .attr("x", mapLeft).attr("y", mapTop)
    .attr("width", mapRight - mapLeft).attr("height", mapBottom - mapTop);
const mapInner = map.append("g").attr("clip-path", "url(#mapClip)");

mapInner.append("rect").attr("x", mapLeft).attr("y", mapTop)
    .attr("width", mapRight - mapLeft).attr("height", mapBottom - mapTop).attr("fill", "#98b7e2");

[landOutline, longIsland, marthasVineyard, nantucket, blockIsland, novaScotia].forEach(poly => {
    mapInner.append("path").attr("d", shape(poly) + "Z")
        .attr("fill", "#d2b48c").attr("stroke", "#000").attr("stroke-width", 2.2).attr("stroke-linejoin", "round");
});
mapInner.append("path").attr("d", shape(pamlicoSound) + "Z")
    .attr("fill", "#98b7e2").attr("stroke", "#000").attr("stroke-width", 2.4).attr("stroke-linejoin", "round");
mapInner.append("path").attr("d", shape(lakeOntario) + "Z").attr("fill", "#b3b3b3");
rivers.forEach(r => {
    mapInner.append("path").attr("d", shape(r)).attr("fill", "none").attr("stroke", "#98b7e2").attr("stroke-width", 1.6);
});
estuaries.forEach(r => {
    mapInner.append("path").attr("d", shape(r)).attr("fill", "none").attr("stroke", "#000").attr("stroke-width", 3.2).attr("stroke-linejoin", "round");
});
stateBorders.forEach(r => {
    mapInner.append("path").attr("d", shape(r)).attr("fill", "none").attr("stroke", "#000").attr("stroke-width", 1.1);
});

mapInner.append("g").selectAll("circle").data(gliderTrack).enter().append("circle")
    .attr("cx", d => projection(d)[0]).attr("cy", d => projection(d)[1]).attr("r", 4.9).attr("fill", "#000");
mapInner.append("circle")
    .attr("cx", projection(gliderTrack[gliderTrack.length - 1])[0])
    .attr("cy", projection(gliderTrack[gliderTrack.length - 1])[1])
    .attr("r", 3.6).attr("fill", "#ff0000");

map.append("rect").attr("x", mapLeft).attr("y", mapTop)
    .attr("width", mapRight - mapLeft).attr("height", mapBottom - mapTop)
    .attr("fill", "none").attr("stroke", "#000").attr("stroke-width", 1);

// map ticks on all four sides
function lonTicks(values, len, w) {
    const xs = values.map(d => projection([d, 40])[0]);
    map.append("g").selectAll("line").data(xs).enter().append("line")
        .attr("x1", d => d).attr("x2", d => d).attr("y1", mapTop).attr("y2", mapTop - len)
        .attr("stroke", "#000").attr("stroke-width", w);
    map.append("g").selectAll("line").data(xs).enter().append("line")
        .attr("x1", d => d).attr("x2", d => d).attr("y1", mapBottom).attr("y2", mapBottom + len)
        .attr("stroke", "#000").attr("stroke-width", w);
}
function latTicks(values, len, w) {
    const ys = values.map(d => projection([-70, d])[1]);
    map.append("g").selectAll("line").data(ys).enter().append("line")
        .attr("y1", d => d).attr("y2", d => d).attr("x1", mapLeft).attr("x2", mapLeft - len)
        .attr("stroke", "#000").attr("stroke-width", w);
    map.append("g").selectAll("line").data(ys).enter().append("line")
        .attr("y1", d => d).attr("y2", d => d).attr("x1", mapRight).attr("x2", mapRight + len)
        .attr("stroke", "#000").attr("stroke-width", w);
}
lonTicks(mapLonTicks, 8.5, 2.6);
latTicks(mapLatTicks, 8.5, 2.6);
lonTicks(mapLonMinor, 3.5, 1.6);
latTicks(mapLatMinor, 3.5, 1.6);

map.append("g").selectAll("text").data(mapLatTicks).enter().append("text")
    .attr("x", 1546).attr("y", d => projection([-70, d])[1])
    .attr("text-anchor", "end").attr("dominant-baseline", "central")
    .attr("font-size", 22.5).text(d => d + "°N");
map.append("g").selectAll("text").data(mapLonTicks).enter().append("text")
    .attr("text-anchor", "middle").attr("dominant-baseline", "central")
    .attr("font-size", 22.5)
    .attr("transform", d => `translate(${projection([d, 40])[0] - 3},630) rotate(-45)`)
    .text(d => Math.abs(d) + "°W");

// legend
const legendX = 1593, legendW = 342, legendTop = 641.7, legendH = 176.3;
const legendRows = [661.7, 696, 730, 764, 797.7];
const legendColors = [colors.raw, colors.glider, colors.rtofs, colors.espc, colors.cmems];
const legend = svg.append("g");
legend.append("rect").attr("x", legendX).attr("y", legendTop).attr("width", legendW).attr("height", legendH)
    .attr("rx", 3.5).attr("fill", "#fff").attr("fill-opacity", 0.8).attr("stroke", "#d4d4d4").attr("stroke-width", 1.3);
legendItems.forEach((name, i) => {
    if (i > 0) {
        legend.append("line").attr("x1", 1601).attr("x2", 1649).attr("y1", legendRows[i] - 1).attr("y2", legendRows[i] - 1)
            .attr("stroke", legendColors[i]).attr("stroke-width", 2.5);
    }
    legend.append("circle").attr("cx", 1625).attr("cy", legendRows[i] - 1)
        .attr("r", i > 0 ? 5.8 : 3.4).attr("fill", legendColors[i]);
    legend.append("text").attr("x", 1665.7).attr("y", legendRows[i])
        .attr("dominant-baseline", "central").attr("font-size", 22.5).text(name);
});
</script>
</body>
</html>
